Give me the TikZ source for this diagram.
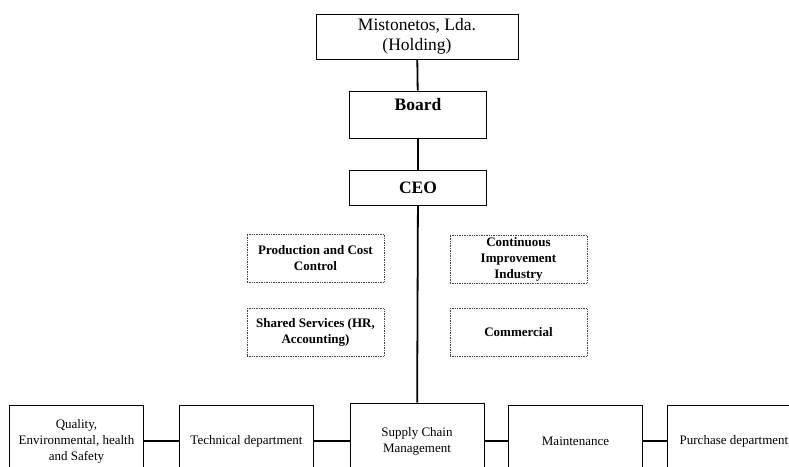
\documentclass[tikz,border=0pt]{standalone}
\usepackage{fontspec}
\setmainfont{Liberation Serif}
\usepackage{tikz}

\begin{document}
\begin{tikzpicture}[
  x=1pt, y=-1pt,
  box/.style={draw, line width=0.8pt, align=center, inner sep=2pt, font=\fontsize{13}{16}\selectfont},
  topbox/.style={box, font=\fontsize{17.5}{20}\selectfont},
  unit/.style={draw=black!75, densely dotted, line width=0.7pt, align=center, inner sep=0pt,
               minimum width=137pt, minimum height=48pt, font=\fontsize{13}{16}\selectfont\bfseries},
  dept/.style={box, minimum width=134pt, minimum height=72pt},
  link/.style={line width=1.8pt}
]
\clip (0,0) rectangle (789,466);
\fill[white] (0,0) rectangle (789,466);

% chain of command
\node[topbox, minimum width=202pt, minimum height=45pt] (holding) at (417,36.5) {Mistonetos, Lda.\\(Holding)};
\node[topbox, minimum width=137pt, minimum height=47pt] (board) at (418,114.5) {\textbf{Board}\\[-6pt]\strut};
\node[topbox, minimum width=137pt, minimum height=35pt] (ceo) at (418,187.5) {\textbf{CEO}};

% staff units
\node[unit] (prod) at (315.5,258) {Production and Cost\\Control};
\node[unit] (shared) at (315.5,332.5) {Shared Services (HR,\\Accounting)};
\node[unit] (cont) at (518.5,259) {Continuous\\Improvement\\Industry};
\node[unit] (comm) at (518.5,332.5) {Commercial};

% departments
\node[dept] (qhse) at (76.5,441) {Quality,\\Environmental, health\\and Safety};
\node[dept] (tech) at (246.5,441) {Technical department};
\node[dept, minimum height=76pt] (scm) at (417,441) {Supply Chain\\Management};
\node[dept] (maint) at (575.5,441) {Maintenance};
\node[dept] (purch) at (734,441) {Purchase department};

\draw[link] (holding) -- (board);
\draw[link] (board) -- (ceo);
\draw[link] (ceo) -- (scm);
\draw[link] (qhse) -- (tech);
\draw[link] (tech) -- (scm);
\draw[link] (scm) -- (maint);
\draw[link] (maint) -- (purch);
\end{tikzpicture}
\end{document}
